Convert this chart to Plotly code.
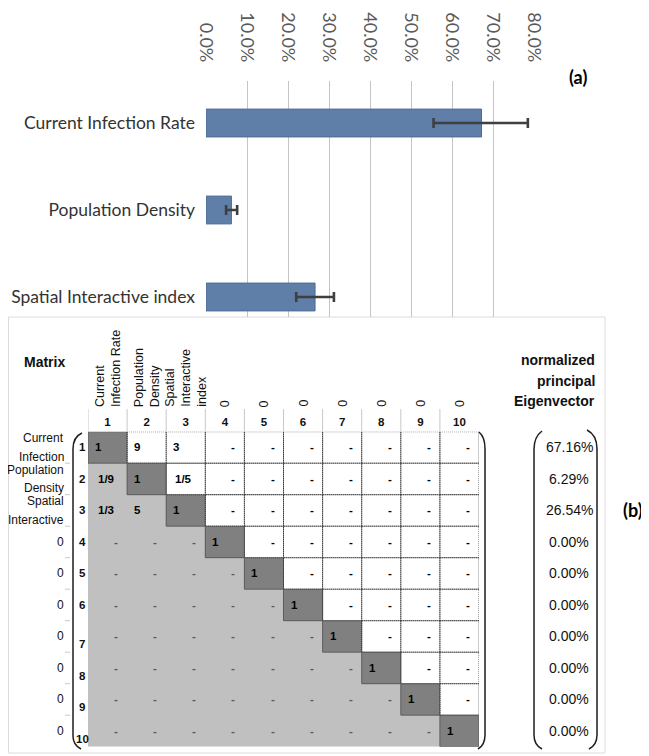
import plotly.graph_objects as go

# page has an 8px body margin: figure occupies page pixels 8..649 / 8..756
OX, OY = 8, 8
W, H = 641, 748

# ---------------- data: panel (a) ----------------
factors = ["Current Infection Rate", "Population Density", "Spatial Interactive index"]
weights = [0.672, 0.062, 0.266]
err_minus = [0.117, 0.013, 0.046]
err_plus = [0.113, 0.014, 0.046]
pct_ticks = [0.0, 0.1, 0.2, 0.3, 0.4, 0.5, 0.6, 0.7, 0.8]

# ---------------- data: panel (b) ----------------
matrix_index = ["1", "2", "3", "4", "5", "6", "7", "8", "9", "10"]
column_names = ["Current<br>Infection Rate", "Population<br>Density",
                "Spatial<br>Interactive<br>index", "0", "0", "0", "0", "0", "0", "0"]
row_names = [["Current", "Infection"], ["Population", "Density"], ["Spatial", "Interactive"],
             ["0"], ["0"], ["0"], ["0"], ["0"], ["0"], ["0"]]
matrix_text = [
    ["1",   "9", "3",   "-", "-", "-", "-", "-", "-", "-"],
    ["1/9", "1", "1/5", "-", "-", "-", "-", "-", "-", "-"],
    ["1/3", "5", "1",   "-", "-", "-", "-", "-", "-", "-"],
    ["-",   "-", "-",   "1", "-", "-", "-", "-", "-", "-"],
    ["-",   "-", "-",   "-", "1", "-", "-", "-", "-", "-"],
    ["-",   "-", "-",   "-", "-", "1", "-", "-", "-", "-"],
    ["-",   "-", "-",   "-", "-", "-", "1", "-", "-", "-"],
    ["-",   "-", "-",   "-", "-", "-", "-", "1", "-", "-"],
    ["-",   "-", "-",   "-", "-", "-", "-", "-", "1", "-"],
    ["-",   "-", "-",   "-", "-", "-", "-", "-", "-", "1"],
]
eigenvector = ["67.16%", "6.29%", "26.54%", "0.00%", "0.00%",
               "0.00%", "0.00%", "0.00%", "0.00%", "0.00%"]
eigen_title = ["normalized", "principal", "Eigenvector"]


def PX(x):
    return (x - OX) / W


def PY(y):
    return 1 - (y - OY) / H


ARIAL = "Liberation Sans, Arial, sans-serif"
CAL = "Lato, Carlito, Calibri, sans-serif"

fig = go.Figure()

# ---- (a) bar chart ----
fig.add_trace(go.Bar(
    x=weights, y=factors, orientation="h", width=0.32,
    marker=dict(color="#5f7fa9", line=dict(color="#4d6c96", width=1)),
    error_x=dict(type="data", array=err_plus, arrayminus=err_minus, symmetric=False,
                 color="#3f3f3f", thickness=2.6, width=5),
    hoverinfo="skip", xaxis="x", yaxis="y",
))

# ---- (b) matrix as heatmap ----
n = len(matrix_index)
z = [[2 if i == j else (1 if i > j else 0) for j in range(n)] for i in range(n)]
fig.add_trace(go.Heatmap(
    x=list(range(1, n + 1)), y=list(range(1, n + 1)), z=z,
    zmin=0, zmax=2, showscale=False, hoverinfo="skip",
    colorscale=[[0, "#ffffff"], [0.33, "#ffffff"], [0.33, "#c0c0c0"],
                [0.67, "#c0c0c0"], [0.67, "#808080"], [1, "#808080"]],
    xaxis="x2", yaxis="y2",
))

shapes = []
annotations = []

# panel (b) frame
shapes.append(dict(type="rect", xref="paper", yref="paper", layer="below",
                   x0=PX(8.5), x1=PX(605), y0=PY(753), y1=PY(317),
                   line=dict(color="#dcdcdc", width=1), fillcolor="white"))

# cell borders
for i in range(n):
    for j in range(n):
        r, c = i + 1, j + 1
        if i < j:
            shapes.append(dict(type="rect", xref="x2", yref="y2",
                               x0=c - 0.5, x1=c + 0.5, y0=r - 0.5, y1=r + 0.5,
                               line=dict(color="#333333", width=1, dash="1px,1px")))
        elif i == j:
            shapes.append(dict(type="rect", xref="x2", yref="y2",
                               x0=c - 0.5, x1=c + 0.5, y0=r - 0.5, y1=r + 0.5,
                               line=dict(color="#5c5c5c", width=1)))

# column header separators
for k in range(n):
    shapes.append(dict(type="line", xref="x2", yref="paper",
                       x0=k + 0.5, x1=k + 0.5, y0=PY(431), y1=PY(409),
                       line=dict(color="#c8c8c8", width=1)))

# small row separators in row-label column
for k in range(1, n):
    shapes.append(dict(type="line", xref="paper", yref="y2",
                       x0=PX(65), x1=PX(70), y0=k + 0.5, y1=k + 0.5,
                       line=dict(color="#c8c8c8", width=1)))


def path(pts):
    s = "M {} {}".format(PX(pts[0][0]), PY(pts[0][1]))
    for tag, p in pts[1:]:
        if tag == "Q":
            (cx, cy), (x, y) = p
            s += " Q {} {} {} {}".format(PX(cx), PY(cy), PX(x), PY(y))
        else:
            s += " L {} {}".format(PX(p[0]), PY(p[1]))
    return s


brackets = [
    [(82, 433), ("Q", ((73, 437), (73, 449))), ("L", (73, 736)), ("Q", ((73, 745), (81, 749)))],
    [(479, 432), ("Q", ((485, 437), (485, 449))), ("L", (485, 735)), ("Q", ((485, 745), (478, 749)))],
    [(542, 431), ("Q", ((534, 437), (534, 449))), ("L", (534, 735)), ("Q", ((534, 745), (542, 749)))],
    [(587, 430), ("Q", ((597, 435), (597, 449))), ("L", (597, 735)), ("Q", ((597, 745), (589, 749)))],
]
for b in brackets:
    shapes.append(dict(type="path", xref="paper", yref="paper", path=path(b),
                       line=dict(color="#1e1e1e", width=1.5)))

# cell texts
for i, row in enumerate(matrix_text):
    for j, val in enumerate(row):
        r, c = i + 1, j + 1
        if val == "-":
            x, xa, xs = c + 0.5, "right", -7
        elif "/" in val:
            x, xa, xs = c + 0.5, "right", -11
        else:
            x, xa, xs = c - 0.5, "left", 5
        col = "#000000"
        if i > j and val == "-":
            col = "#5a5a5a"
        annotations.append(dict(xref="x2", yref="y2", x=x, y=r, xanchor=xa, yanchor="middle",
                                xshift=xs, text="<b>" + val + "</b>", showarrow=False,
                                font=dict(family=ARIAL, size=11.5, color=col)))

# column names (rotated)
for j, name in enumerate(column_names):
    annotations.append(dict(xref="x2", yref="paper", x=j + 1, y=PY(409),
                            xanchor="center", yanchor="bottom", textangle=-90, align="left",
                            text=name, showarrow=False,
                            font=dict(family=ARIAL, size=12.5, color="#111111")))

# row names, row numbers and eigenvector values
for i in range(n):
    r = i + 1
    lines = row_names[i]
    m = len(lines)
    for k, ln in enumerate(lines):
        annotations.append(dict(xref="paper", yref="y2", x=PX(66), y=r, xanchor="right",
                                yanchor="middle", yshift=-(k - (m - 1) / 2) * 18.5,
                                text=ln, showarrow=False,
                                font=dict(family=ARIAL, size=12, color="#111111")))
    annotations.append(dict(xref="paper", yref="y2", x=PX(82), y=r, xanchor="center",
                            yanchor="middle", yshift=(-8 if r >= 7 else 0),
                            text="<b>" + matrix_index[i] + "</b>", showarrow=False,
                            font=dict(family=ARIAL, size=11.5, color="#111111")))
    annotations.append(dict(xref="paper", yref="y2", x=PX(569), y=r, xanchor="center",
                            yanchor="middle", text=eigenvector[i], showarrow=False,
                            font=dict(family=ARIAL, size=14, color="#111111")))

for k, ln in enumerate(eigen_title):
    annotations.append(dict(xref="paper", yref="paper", x=PX(597), y=PY(360 + k * 20.5),
                            text="<b>" + ln + "</b>", showarrow=False,
                            xanchor="right", yanchor="middle",
                            font=dict(family=ARIAL, size=14, color="#111111")))

annotations += [
    dict(xref="paper", yref="paper", x=PX(44), y=PY(362), text="<b>Matrix</b>",
         showarrow=False, xanchor="center", yanchor="middle",
         font=dict(family=ARIAL, size=14, color="#111111")),
    dict(xref="paper", yref="paper", x=PX(578), y=PY(77), text="<b>(a)</b>",
         showarrow=False, xanchor="center", yanchor="middle",
         font=dict(family=CAL, size=18, color="#000000")),
    dict(xref="paper", yref="paper", x=PX(633), y=PY(510), text="<b>(b)</b>",
         showarrow=False, xanchor="center", yanchor="middle",
         font=dict(family=CAL, size=18, color="#000000")),
]

fig.update_layout(
    width=W, height=H, margin=dict(l=0, r=0, t=0, b=0),
    paper_bgcolor="white", plot_bgcolor="rgba(0,0,0,0)", showlegend=False,
    shapes=shapes, annotations=annotations,
    xaxis=dict(domain=[PX(206), PX(534)], range=[0, 0.8], side="top", anchor="y",
               tickvals=pct_ticks, tickformat=".1%", tickangle=90,
               showgrid=True, gridcolor="#c4c4c4", gridwidth=1, zeroline=False,
               showline=False, ticks="", ticklabelstandoff=15, automargin=False,
               tickfont=dict(family=CAL, size=18, color="#5a5a5a"), fixedrange=True),
    yaxis=dict(domain=[PY(317), PY(81)], type="category", categoryarray=factors,
               range=[2.23, -0.483], autorange=False, anchor="x",
               showgrid=False, zeroline=False, showline=False, ticks="",
               ticklabelstandoff=10, automargin=False,
               tickfont=dict(family=CAL, size=17.5, color="#333333"), fixedrange=True),
    xaxis2=dict(domain=[PX(88), PX(479)], range=[0.5, 10.5], anchor="y2", side="top",
                tickvals=list(range(1, n + 1)), ticktext=["<b>" + t + "</b>" for t in matrix_index],
                showgrid=False, zeroline=False, showline=False, ticks="",
                ticklabelstandoff=2, automargin=False,
                tickfont=dict(family=ARIAL, size=11.5, color="#111111"), fixedrange=True),
    yaxis2=dict(domain=[PY(746.7), PY(431.7)], range=[10.5, 0.5], anchor="x2",
                showgrid=False, zeroline=False, showline=False, showticklabels=False,
                ticks="", automargin=False, fixedrange=True),
)

fig.write_html("out.html")
